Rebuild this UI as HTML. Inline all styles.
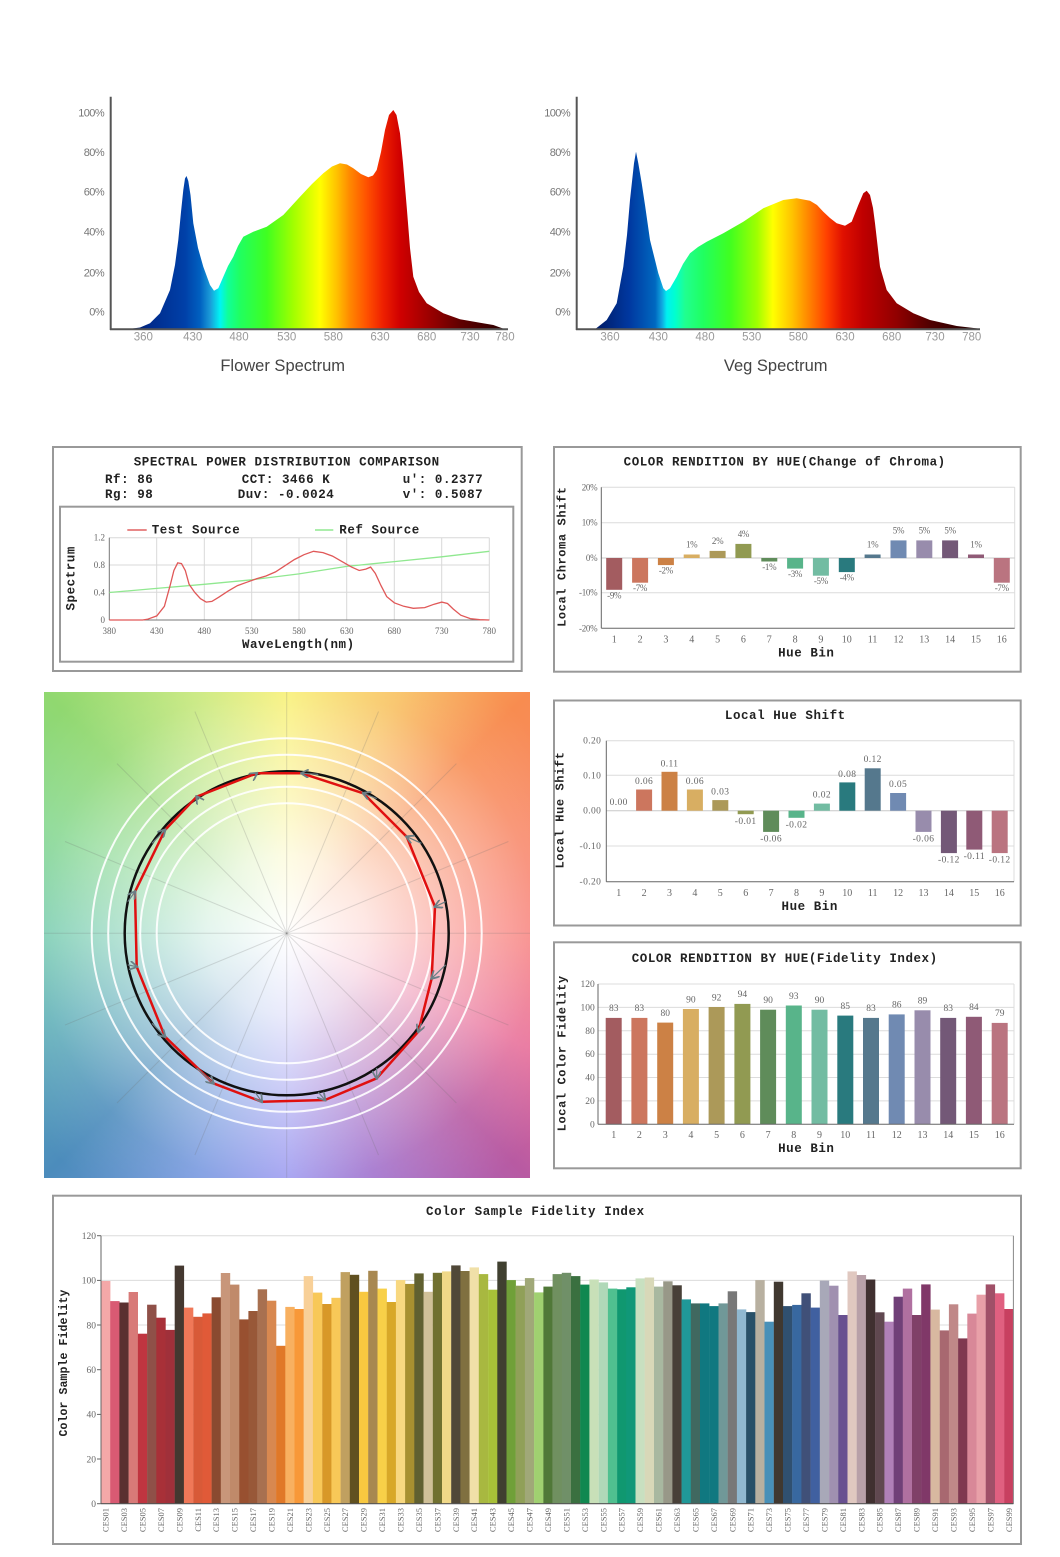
<!DOCTYPE html>
<html><head><meta charset="utf-8">
<style>
html,body{margin:0;padding:0;background:#fff;}
#wrap{position:relative;width:1060px;height:1557px;overflow:hidden;background:#fff;}
#cw{position:absolute;left:44px;top:692px;width:486px;height:486px;
background:
radial-gradient(circle at 50% 50%, rgba(255,255,255,1) 0px, rgba(255,255,255,0.8) 80px, rgba(255,255,255,0.4) 180px, rgba(255,255,255,0.12) 250px, rgba(255,255,255,0) 320px),
conic-gradient(from 0deg at 50% 50%, #f8f070 0deg, #f8c060 25deg, #f88c50 45deg, #f88a68 65deg, #f88480 90deg, #e8709a 115deg, #b85aa2 135deg, #a070cc 160deg, #9a98f0 180deg, #7898e0 200deg, #4c8cbc 225deg, #60b0b8 250deg, #78ccb0 270deg, #88d890 295deg, #90d870 315deg, #c8e878 340deg, #f8f070 360deg);}
svg{position:absolute;left:0;top:0;}
.mono{font-family:"Liberation Mono","Courier New",monospace;font-weight:bold;fill:#222;}
.ser{font-family:"Liberation Serif",serif;fill:#666;}
.sans{font-family:"Liberation Sans",sans-serif;}
</style></head><body><div id="wrap">
<div id="cw"></div>
<svg width="1060" height="1557" viewBox="0 0 1060 1557" xmlns="http://www.w3.org/2000/svg">
<defs>
<linearGradient id="gf" gradientUnits="userSpaceOnUse" x1="110" y1="0" x2="510" y2="0">
<stop offset="0.04" stop-color="#00165a"/><stop offset="0.10" stop-color="#002b8c"/><stop offset="0.1875" stop-color="#0040a8"/><stop offset="0.225" stop-color="#0060c0"/><stop offset="0.25" stop-color="#1a9ad8"/><stop offset="0.275" stop-color="#00f4f4"/><stop offset="0.295" stop-color="#10ff98"/><stop offset="0.325" stop-color="#20ff60"/><stop offset="0.3925" stop-color="#40ff20"/><stop offset="0.4575" stop-color="#a0ff00"/><stop offset="0.525" stop-color="#ffff00"/><stop offset="0.5675" stop-color="#ffc000"/><stop offset="0.6" stop-color="#ff8800"/><stop offset="0.6425" stop-color="#ff5000"/><stop offset="0.6825" stop-color="#ee2000"/><stop offset="0.725" stop-color="#d00000"/><stop offset="0.7925" stop-color="#a00000"/><stop offset="0.875" stop-color="#600000"/><stop offset="0.9875" stop-color="#280000"/>
</linearGradient>
<linearGradient id="gv" gradientUnits="userSpaceOnUse" x1="577" y1="0" x2="980" y2="0">
<stop offset="0.05" stop-color="#001c68"/><stop offset="0.13" stop-color="#0038a0"/><stop offset="0.194" stop-color="#0068c0"/><stop offset="0.211" stop-color="#10a8e0"/><stop offset="0.223" stop-color="#00f0f0"/><stop offset="0.243" stop-color="#00ffd0"/><stop offset="0.268" stop-color="#20ff90"/><stop offset="0.313" stop-color="#20ff60"/><stop offset="0.38" stop-color="#40ff20"/><stop offset="0.447" stop-color="#a0ff00"/><stop offset="0.486" stop-color="#ffff00"/><stop offset="0.536" stop-color="#ffc000"/><stop offset="0.578" stop-color="#ff8000"/><stop offset="0.62" stop-color="#ff4000"/><stop offset="0.66" stop-color="#e01000"/><stop offset="0.709" stop-color="#c00000"/><stop offset="0.794" stop-color="#900000"/><stop offset="0.876" stop-color="#500000"/><stop offset="0.993" stop-color="#200000"/>
</linearGradient>
<marker id="ah" viewBox="0 0 10 10" refX="8" refY="5" markerWidth="9" markerHeight="9" markerUnits="userSpaceOnUse" orient="auto"><path d="M0,0 L9,5 L0,10" fill="none" stroke="#6b7f86" stroke-width="2"/></marker>
</defs>

<!-- ===== Flower spectrum ===== -->
<path fill="url(#gf)" d="M110,329.3 L126.7,329.3 L140,327.5 L150,323.3 L160,313.3 L170,290 L175,265 L178.3,240 L181,212 L183.3,190 L185,178.5 L186.5,176 L188.3,181 L190.5,195 L193.3,223.3 L198,248 L203.3,266.7 L210,285 L214,290.7 L218.3,288.3 L223.3,276.7 L228,266 L233.3,256.7 L238,246 L243.3,236.7 L253.3,231.7 L266.7,226.7 L283.3,215 L300,196.7 L312,184 L323.3,173.3 L332,166.5 L340,163.3 L347,164.5 L353.3,168.3 L361,174 L368.3,177.3 L373,175.5 L376.7,170 L381,152 L385,130 L389,115 L393.3,110 L396.5,115 L400,133.3 L403,163 L406.7,206.7 L410,248 L413.3,276.7 L419,292 L426.7,303.3 L443.3,313.3 L460,319.3 L480,322.7 L493.3,325 L505,329.3 Z"/>
<line x1="110.7" y1="96.7" x2="110.7" y2="330" stroke="#555" stroke-width="2"/>
<line x1="110" y1="329.3" x2="508" y2="329.3" stroke="#555" stroke-width="2"/>
<g class="sans" font-size="11" fill="#777" text-anchor="end" letter-spacing="-0.6">
<text x="104" y="116.7">100%</text><text x="104" y="156">80%</text><text x="104" y="195.7">60%</text><text x="104" y="235.7">40%</text><text x="104" y="276.7">20%</text><text x="104" y="315.7">0%</text>
</g>
<g class="sans" font-size="11.5" fill="#999" text-anchor="middle">
<text x="143.3" y="340.7">360</text><text x="192.7" y="340.7">430</text><text x="239" y="340.7">480</text><text x="286.7" y="340.7">530</text><text x="333.3" y="340.7">580</text><text x="380" y="340.7">630</text><text x="426.7" y="340.7">680</text><text x="470" y="340.7">730</text><text x="505" y="340.7">780</text>
</g>
<text class="sans" x="282.7" y="371" font-size="16.5" fill="#444" text-anchor="middle">Flower Spectrum</text>

<!-- ===== Veg spectrum ===== -->
<path fill="url(#gv)" d="M577,329.3 L595,329.3 L606.7,320 L616.7,303.3 L623.3,266.7 L627,235 L630,200 L634,163.3 L636,151.7 L638.3,163.3 L641.7,183.3 L645,205 L650,240 L658.3,273.3 L663.3,288.3 L666,291 L670,288.3 L676.7,276.7 L683,264 L690,253.3 L698,247 L706.7,241.7 L723.3,233.3 L743.3,221.7 L763.3,208.3 L783.3,200 L796.7,198.3 L810,200.7 L817,205 L823.3,211.7 L830,218 L836.7,223.3 L845,225.7 L851.7,221.7 L858.3,205 L863.3,193.3 L866.7,190.7 L870,195 L873,208 L875,223.3 L880,266.7 L886.7,290 L896.7,303.3 L913.3,313.3 L930,320 L956.7,326 L980,328.7 L980,329.3 Z"/>
<line x1="576.7" y1="96.7" x2="576.7" y2="330" stroke="#555" stroke-width="2"/>
<line x1="576" y1="329.3" x2="980" y2="329.3" stroke="#555" stroke-width="2"/>
<g class="sans" font-size="11" fill="#777" text-anchor="end" letter-spacing="-0.6">
<text x="570" y="116.7">100%</text><text x="570" y="156">80%</text><text x="570" y="195.7">60%</text><text x="570" y="235.7">40%</text><text x="570" y="276.7">20%</text><text x="570" y="315.7">0%</text>
</g>
<g class="sans" font-size="11.5" fill="#999" text-anchor="middle">
<text x="610" y="340.7">360</text><text x="658.3" y="340.7">430</text><text x="705" y="340.7">480</text><text x="751.7" y="340.7">530</text><text x="798.3" y="340.7">580</text><text x="845" y="340.7">630</text><text x="891.7" y="340.7">680</text><text x="935" y="340.7">730</text><text x="971.7" y="340.7">780</text>
</g>
<text class="sans" x="775.7" y="371" font-size="16.5" fill="#444" text-anchor="middle">Veg Spectrum</text>

<!-- ===== SPD comparison ===== -->
<rect x="53" y="447" width="468.7" height="224" fill="#fff" stroke="#999" stroke-width="2"/>
<rect x="60" y="506.7" width="453.3" height="155" fill="#fff" stroke="#999" stroke-width="2"/>
<g class="mono" font-size="12.5" letter-spacing="0.55">
<text x="286.7" y="465.5" text-anchor="middle">SPECTRAL POWER DISTRIBUTION COMPARISON</text>
<text x="105" y="483">Rf: 86</text><text x="241.7" y="483">CCT: 3466 K</text><text x="402.7" y="483">u': 0.2377</text>
<text x="105" y="498">Rg: 98</text><text x="237.7" y="498">Duv: -0.0024</text><text x="402.7" y="498">v': 0.5087</text>
<text x="151.7" y="533.5">Test Source</text><text x="339.3" y="533.5">Ref Source</text>
<text x="298.3" y="648" text-anchor="middle">WaveLength(nm)</text>
<text transform="translate(74.5,578.3) rotate(-90)" text-anchor="middle">Spectrum</text>
</g>
<line x1="127.3" y1="530" x2="146.7" y2="530" stroke="#e06060" stroke-width="1.5"/>
<line x1="315" y1="530" x2="333.3" y2="530" stroke="#90e890" stroke-width="1.5"/>
<g stroke="#d8d8d8" stroke-width="1">
<line x1="156.7" y1="537.7" x2="156.7" y2="620"/><line x1="204.3" y1="537.7" x2="204.3" y2="620"/><line x1="251.7" y1="537.7" x2="251.7" y2="620"/><line x1="299" y1="537.7" x2="299" y2="620"/><line x1="346.7" y1="537.7" x2="346.7" y2="620"/><line x1="394.3" y1="537.7" x2="394.3" y2="620"/><line x1="441.7" y1="537.7" x2="441.7" y2="620"/><line x1="489.3" y1="537.7" x2="489.3" y2="620"/>
<line x1="109.3" y1="537.7" x2="489.3" y2="537.7"/><line x1="109.3" y1="565" x2="489.3" y2="565"/><line x1="109.3" y1="592.3" x2="489.3" y2="592.3"/>
</g>
<line x1="109.3" y1="537.7" x2="109.3" y2="620" stroke="#777" stroke-width="1"/>
<line x1="109.3" y1="620" x2="489.3" y2="620" stroke="#777" stroke-width="1"/>
<g class="ser" font-size="9" text-anchor="end">
<text x="105" y="540.7">1.2</text><text x="105" y="568">0.8</text><text x="105" y="595.3">0.4</text><text x="105" y="623">0</text>
</g>
<g class="ser" font-size="9" text-anchor="middle">
<text x="109.3" y="634">380</text><text x="156.7" y="634">430</text><text x="204.3" y="634">480</text><text x="251.7" y="634">530</text><text x="299" y="634">580</text><text x="346.7" y="634">630</text><text x="394.3" y="634">680</text><text x="441.7" y="634">730</text><text x="489.3" y="634">780</text>
</g>
<polyline fill="none" stroke="#90e890" stroke-width="1.3" points="109.3,592.5 156.7,588.4 204.3,584.3 251.7,579.8 299,573.9 346.7,566.4 394.3,561.6 441.7,556.8 489.3,551.3"/>
<polyline fill="none" stroke="#e05858" stroke-width="1.3" points="109.3,620 142.6,620 147.3,619.3 156.8,615.9 164.4,606.3 170.1,585.6 173.9,570.5 177.7,562.9 181.5,563.6 185.3,570.5 189.1,584.3 194.8,592.5 200.5,598.7 206.2,602.1 211.9,601.4 218.6,597.3 228.1,591.1 237.5,585.6 247,582.2 256.5,578.8 266,576 275.5,571.9 285,565.7 294.5,559.5 304,554.7 313.5,551.3 323,552.6 332.5,556.1 342,561.6 351.6,567.1 359.2,570.5 365.8,569.1 370.6,567.1 375.3,573.3 381,585.6 386.7,596.6 394.3,602.8 403.8,606.3 413.3,608.3 424.7,607.6 434.2,604.2 441.8,602.1 447.5,603.5 453.2,609 460.8,615.2 470.3,618.6 479.8,619.7 489.3,620"/>

<!-- ===== Chroma chart ===== -->
<rect x="554" y="447" width="466.7" height="224.7" fill="#fff" stroke="#999" stroke-width="2"/>
<g stroke="#dcdcdc" stroke-width="1">
<line x1="601.3" y1="487.3" x2="1014.7" y2="487.3"/><line x1="601.3" y1="522.7" x2="1014.7" y2="522.7"/><line x1="601.3" y1="592.7" x2="1014.7" y2="592.7"/><line x1="1014.7" y1="487.3" x2="1014.7" y2="628.3"/>
</g>
<line x1="601.3" y1="558" x2="1014.7" y2="558" stroke="#c8c8c8" stroke-width="1"/>
<g>
<rect x="606.2" y="558" width="16" height="31.8" fill="#a35c60"/>
<rect x="632.1" y="558" width="16" height="24.7" fill="#cc765e"/>
<rect x="657.9" y="558" width="16" height="7.1" fill="#cc8145"/>
<rect x="683.7" y="554.5" width="16" height="3.5" fill="#d8ae62"/>
<rect x="709.6" y="550.9" width="16" height="7.1" fill="#ac9959"/>
<rect x="735.4" y="543.9" width="16" height="14.1" fill="#919a52"/>
<rect x="761.3" y="558" width="16" height="3.5" fill="#5f8c5a"/>
<rect x="787.1" y="558" width="16" height="10.6" fill="#58b48a"/>
<rect x="812.9" y="558" width="16" height="17.7" fill="#72bca2"/>
<rect x="838.8" y="558" width="16" height="14.1" fill="#297a7e"/>
<rect x="864.6" y="554.5" width="16" height="3.5" fill="#55788d"/>
<rect x="890.5" y="540.4" width="16" height="17.7" fill="#708ab2"/>
<rect x="916.3" y="540.4" width="16" height="17.7" fill="#988cac"/>
<rect x="942.1" y="540.4" width="16" height="17.7" fill="#735877"/>
<rect x="968" y="554.5" width="16" height="3.5" fill="#8f5a76"/>
<rect x="993.8" y="558" width="16" height="24.7" fill="#ba7480"/>
</g>
<line x1="601.3" y1="487.3" x2="601.3" y2="628.3" stroke="#666" stroke-width="1"/>
<line x1="601.3" y1="628.3" x2="1014.7" y2="628.3" stroke="#666" stroke-width="1"/>
<g class="ser" font-size="9" text-anchor="end" letter-spacing="-0.3">
<text x="597.3" y="490.3">20%</text><text x="597.3" y="525.7">10%</text><text x="597.3" y="561">0%</text><text x="597.3" y="595.7">-10%</text><text x="597.3" y="631.3">-20%</text>
</g>
<g class="ser" font-size="9" text-anchor="middle" fill="#555" letter-spacing="-0.3">
<text x="614.2" y="598.5">-9%</text><text x="640.1" y="591.2">-7%</text><text x="665.9" y="573.6">-2%</text><text x="691.7" y="547.5">1%</text><text x="717.6" y="543.9">2%</text><text x="743.4" y="536.9">4%</text><text x="769.3" y="570">-1%</text><text x="795.1" y="577.1">-3%</text><text x="820.9" y="584.2">-5%</text><text x="846.8" y="580.6">-4%</text><text x="872.6" y="547.5">1%</text><text x="898.5" y="533.4">5%</text><text x="924.3" y="533.4">5%</text><text x="950.1" y="533.4">5%</text><text x="976" y="547.5">1%</text><text x="1001.8" y="591.2">-7%</text>
</g>
<g class="ser" font-size="10" text-anchor="middle">
<text x="614.2" y="642.5">1</text><text x="640.1" y="642.5">2</text><text x="665.9" y="642.5">3</text><text x="691.7" y="642.5">4</text><text x="717.6" y="642.5">5</text><text x="743.4" y="642.5">6</text><text x="769.3" y="642.5">7</text><text x="795.1" y="642.5">8</text><text x="820.9" y="642.5">9</text><text x="846.8" y="642.5">10</text><text x="872.6" y="642.5">11</text><text x="898.5" y="642.5">12</text><text x="924.3" y="642.5">13</text><text x="950.1" y="642.5">14</text><text x="976" y="642.5">15</text><text x="1001.8" y="642.5">16</text>
</g>
<g class="mono" font-size="12.5" letter-spacing="0.55">
<text x="784.7" y="465.5" text-anchor="middle">COLOR RENDITION BY HUE(Change of Chroma)</text>
<text x="806.3" y="656.5" text-anchor="middle">Hue Bin</text>
<text transform="translate(565.3,556.7) rotate(-90)" text-anchor="middle" font-size="12" letter-spacing="0.6">Local Chroma Shift</text>
</g>

<!-- ===== Hue shift chart ===== -->
<rect x="554" y="700.5" width="466.7" height="225" fill="#fff" stroke="#999" stroke-width="2"/>
<g stroke="#dcdcdc" stroke-width="1">
<line x1="606.3" y1="740.7" x2="1014" y2="740.7"/><line x1="606.3" y1="775.3" x2="1014" y2="775.3"/><line x1="606.3" y1="846" x2="1014" y2="846"/><line x1="1014" y1="740.7" x2="1014" y2="881.7"/>
</g>
<line x1="606.3" y1="810.7" x2="1014" y2="810.7" stroke="#c8c8c8" stroke-width="1"/>
<g>
<rect x="636.1" y="789.5" width="16" height="21.2" fill="#cc765e"/>
<rect x="661.5" y="771.8" width="16" height="38.9" fill="#cc8145"/>
<rect x="686.9" y="789.5" width="16" height="21.2" fill="#d8ae62"/>
<rect x="712.3" y="800.1" width="16" height="10.6" fill="#ac9959"/>
<rect x="737.7" y="810.7" width="16" height="3.5" fill="#919a52"/>
<rect x="763.1" y="810.7" width="16" height="21.2" fill="#5f8c5a"/>
<rect x="788.5" y="810.7" width="16" height="7.1" fill="#58b48a"/>
<rect x="813.9" y="803.6" width="16" height="7.1" fill="#72bca2"/>
<rect x="839.3" y="782.4" width="16" height="28.3" fill="#297a7e"/>
<rect x="864.7" y="768.3" width="16" height="42.4" fill="#55788d"/>
<rect x="890.1" y="793" width="16" height="17.7" fill="#708ab2"/>
<rect x="915.5" y="810.7" width="16" height="21.2" fill="#988cac"/>
<rect x="940.9" y="810.7" width="16" height="42.4" fill="#735877"/>
<rect x="966.3" y="810.7" width="16" height="38.9" fill="#8f5a76"/>
<rect x="991.7" y="810.7" width="16" height="42.4" fill="#ba7480"/>
</g>
<line x1="606.3" y1="740.7" x2="606.3" y2="881.7" stroke="#666" stroke-width="1"/>
<line x1="606.3" y1="881.7" x2="1014" y2="881.7" stroke="#666" stroke-width="1"/>
<g class="ser" font-size="9.5" text-anchor="end" letter-spacing="0.4">
<text x="601.3" y="743.7">0.20</text><text x="601.3" y="778.3">0.10</text><text x="601.3" y="813.7">0.00</text><text x="601.3" y="849">-0.10</text><text x="601.3" y="884.7">-0.20</text>
</g>
<g class="ser" font-size="9.5" text-anchor="middle" fill="#555" letter-spacing="0.4">
<text x="618.7" y="805">0.00</text><text x="644.1" y="784">0.06</text><text x="669.5" y="766.3">0.11</text><text x="694.9" y="784">0.06</text><text x="720.3" y="794.6">0.03</text><text x="745.7" y="824">-0.01</text><text x="771.1" y="841.6">-0.06</text><text x="796.5" y="827.5">-0.02</text><text x="821.9" y="797.5">0.02</text><text x="847.3" y="776.8">0.08</text><text x="872.7" y="761.8">0.12</text><text x="898.1" y="786.8">0.05</text><text x="923.5" y="841.6">-0.06</text><text x="948.9" y="862.5">-0.12</text><text x="974.3" y="859">-0.11</text><text x="999.7" y="862.5">-0.12</text>
</g>
<g class="ser" font-size="10" text-anchor="middle">
<text x="618.7" y="896">1</text><text x="644.1" y="896">2</text><text x="669.5" y="896">3</text><text x="694.9" y="896">4</text><text x="720.3" y="896">5</text><text x="745.7" y="896">6</text><text x="771.1" y="896">7</text><text x="796.5" y="896">8</text><text x="821.9" y="896">9</text><text x="847.3" y="896">10</text><text x="872.7" y="896">11</text><text x="898.1" y="896">12</text><text x="923.5" y="896">13</text><text x="948.9" y="896">14</text><text x="974.3" y="896">15</text><text x="999.7" y="896">16</text>
</g>
<g class="mono" font-size="12.5" letter-spacing="0.55">
<text x="785.3" y="719" text-anchor="middle">Local Hue Shift</text>
<text x="809.7" y="910" text-anchor="middle">Hue Bin</text>
<text transform="translate(563.7,810) rotate(-90)" text-anchor="middle" font-size="12" letter-spacing="0.6">Local Hue Shift</text>
</g>

<!-- ===== Fidelity by hue ===== -->
<rect x="554" y="942.3" width="466.7" height="226" fill="#fff" stroke="#999" stroke-width="2"/>
<g stroke="#dcdcdc" stroke-width="1">
<line x1="598" y1="984" x2="1014" y2="984"/><line x1="598" y1="1007.4" x2="1014" y2="1007.4"/><line x1="598" y1="1030.8" x2="1014" y2="1030.8"/><line x1="598" y1="1054.2" x2="1014" y2="1054.2"/><line x1="598" y1="1077.5" x2="1014" y2="1077.5"/><line x1="598" y1="1100.9" x2="1014" y2="1100.9"/><line x1="1014" y1="984" x2="1014" y2="1124.3"/>
</g>
<g>
<rect x="605.7" y="1017.9" width="16" height="106.4" fill="#a35c60"/>
<rect x="631.4" y="1017.9" width="16" height="106.4" fill="#cc765e"/>
<rect x="657.2" y="1022.6" width="16" height="101.7" fill="#cc8145"/>
<rect x="682.9" y="1009" width="16" height="115.3" fill="#d8ae62"/>
<rect x="708.6" y="1007" width="16" height="117.3" fill="#ac9959"/>
<rect x="734.4" y="1003.9" width="16" height="120.4" fill="#919a52"/>
<rect x="760.1" y="1009.7" width="16" height="114.6" fill="#5f8c5a"/>
<rect x="785.8" y="1005.5" width="16" height="118.8" fill="#58b48a"/>
<rect x="811.5" y="1009.7" width="16" height="114.6" fill="#72bca2"/>
<rect x="837.3" y="1015.6" width="16" height="108.7" fill="#297a7e"/>
<rect x="863" y="1017.9" width="16" height="106.4" fill="#55788d"/>
<rect x="888.7" y="1014.4" width="16" height="109.9" fill="#708ab2"/>
<rect x="914.5" y="1010.3" width="16" height="114" fill="#988cac"/>
<rect x="940.2" y="1017.9" width="16" height="106.4" fill="#735877"/>
<rect x="965.9" y="1016.8" width="16" height="107.5" fill="#8f5a76"/>
<rect x="991.7" y="1022.9" width="16" height="101.4" fill="#ba7480"/>
</g>
<line x1="598" y1="984" x2="598" y2="1124.3" stroke="#666" stroke-width="1"/>
<line x1="598" y1="1124.3" x2="1014" y2="1124.3" stroke="#666" stroke-width="1"/>
<g class="ser" font-size="9.5" text-anchor="end">
<text x="594.7" y="987">120</text><text x="594.7" y="1010.4">100</text><text x="594.7" y="1033.8">80</text><text x="594.7" y="1057.2">60</text><text x="594.7" y="1080.5">40</text><text x="594.7" y="1103.9">20</text><text x="594.7" y="1127.3">0</text>
</g>
<g class="ser" font-size="9.5" text-anchor="middle" fill="#555">
<text x="613.7" y="1011.2">83</text><text x="639.4" y="1011.2">83</text><text x="665.2" y="1015.9">80</text><text x="690.9" y="1002.3">90</text><text x="716.6" y="1000.3">92</text><text x="742.4" y="997.2">94</text><text x="768.1" y="1003">90</text><text x="793.8" y="998.8">93</text><text x="819.5" y="1003">90</text><text x="845.3" y="1008.9">85</text><text x="871" y="1011.2">83</text><text x="896.7" y="1007.7">86</text><text x="922.5" y="1003.6">89</text><text x="948.2" y="1011.2">83</text><text x="973.9" y="1010.1">84</text><text x="999.7" y="1016.2">79</text>
</g>
<g class="ser" font-size="10" text-anchor="middle">
<text x="613.7" y="1138">1</text><text x="639.4" y="1138">2</text><text x="665.2" y="1138">3</text><text x="690.9" y="1138">4</text><text x="716.6" y="1138">5</text><text x="742.4" y="1138">6</text><text x="768.1" y="1138">7</text><text x="793.8" y="1138">8</text><text x="819.5" y="1138">9</text><text x="845.3" y="1138">10</text><text x="871" y="1138">11</text><text x="896.7" y="1138">12</text><text x="922.5" y="1138">13</text><text x="948.2" y="1138">14</text><text x="973.9" y="1138">15</text><text x="999.7" y="1138">16</text>
</g>
<g class="mono" font-size="12.5" letter-spacing="0.55">
<text x="784.7" y="962" text-anchor="middle">COLOR RENDITION BY HUE(Fidelity Index)</text>
<text x="806.3" y="1152" text-anchor="middle">Hue Bin</text>
<text transform="translate(565.3,1053.3) rotate(-90)" text-anchor="middle" font-size="12" letter-spacing="0.6">Local Color Fidelity</text>
</g>

<!-- ===== Color vector graphic overlay ===== -->
<g stroke="rgba(110,110,110,0.22)" stroke-width="1">
<line x1="286.7" y1="692" x2="286.7" y2="1177.7"/>
<line x1="44" y1="933.3" x2="530" y2="933.3"/>
<line x1="286.7" y1="933.3" x2="378.5" y2="711.6"/>
<line x1="286.7" y1="933.3" x2="456.4" y2="763.6"/>
<line x1="286.7" y1="933.3" x2="508.4" y2="841.5"/>
<line x1="286.7" y1="933.3" x2="508.4" y2="1025.1"/>
<line x1="286.7" y1="933.3" x2="456.4" y2="1103"/>
<line x1="286.7" y1="933.3" x2="378.5" y2="1155"/>
<line x1="286.7" y1="933.3" x2="194.9" y2="1155"/>
<line x1="286.7" y1="933.3" x2="117" y2="1103"/>
<line x1="286.7" y1="933.3" x2="65" y2="1025.1"/>
<line x1="286.7" y1="933.3" x2="65" y2="841.5"/>
<line x1="286.7" y1="933.3" x2="117" y2="763.6"/>
<line x1="286.7" y1="933.3" x2="194.9" y2="711.6"/>
</g>
<g fill="none" stroke="rgba(255,255,255,0.9)" stroke-width="2">
<circle cx="286.7" cy="933.3" r="195"/><circle cx="286.7" cy="933.3" r="178.5"/><circle cx="286.7" cy="933.3" r="146.5"/><circle cx="286.7" cy="933.3" r="130"/>
</g>
<circle cx="286.7" cy="933.3" r="162" fill="none" stroke="#111" stroke-width="2.5"/>
<polygon fill="none" stroke="#e01010" stroke-width="2.5" stroke-linejoin="round" points="256.7,773.3 301.7,773.3 363.3,793.3 406.7,836.7 435,906.7 431.7,978.3 418.3,1031.7 376.7,1078.3 325,1100 261.7,1101.7 213.3,1083.3 165,1036.7 136.7,966.7 135,891.7 165,830 196.7,796.7"/>
<g stroke="#6b7f86" stroke-width="1.2" marker-end="url(#ah)">
<line x1="445.6" y1="901.7" x2="435" y2="906.7"/>
<line x1="421.4" y1="843.3" x2="406.7" y2="836.7"/>
<line x1="376.7" y1="798.6" x2="363.3" y2="793.3"/>
<line x1="318.3" y1="774.4" x2="301.7" y2="773.3"/>
<line x1="255.1" y1="774.4" x2="256.7" y2="773.3"/>
<line x1="198.7" y1="799.6" x2="196.7" y2="796.7"/>
<line x1="152" y1="843.3" x2="165" y2="830"/>
<line x1="127.8" y1="901.7" x2="135" y2="891.7"/>
<line x1="127.8" y1="964.9" x2="136.7" y2="966.7"/>
<line x1="152" y1="1023.3" x2="165" y2="1036.7"/>
<line x1="196.7" y1="1068" x2="213.3" y2="1083.3"/>
<line x1="255.1" y1="1092.2" x2="261.7" y2="1101.7"/>
<line x1="318.3" y1="1092.2" x2="325" y2="1100"/>
<line x1="376.7" y1="1068" x2="376.7" y2="1078.3"/>
<line x1="421.4" y1="1023.3" x2="418.3" y2="1031.7"/>
<line x1="445.6" y1="964.9" x2="431.7" y2="978.3"/>
</g>

<!-- ===== Color Sample Fidelity Index ===== -->
<rect x="53" y="1195.7" width="968" height="348.3" fill="#fff" stroke="#999" stroke-width="2"/>
<g stroke="#dcdcdc" stroke-width="1">
<line x1="101" y1="1235.7" x2="1013.4" y2="1235.7"/><line x1="101" y1="1280.4" x2="1013.4" y2="1280.4"/><line x1="101" y1="1325" x2="1013.4" y2="1325"/><line x1="101" y1="1369.7" x2="1013.4" y2="1369.7"/><line x1="101" y1="1414.4" x2="1013.4" y2="1414.4"/><line x1="101" y1="1459" x2="1013.4" y2="1459"/>
</g>
<g>
<rect x="101" y="1281" width="9.4" height="222.7" fill="#f4a8a8"/>
<rect x="110.2" y="1301.1" width="9.4" height="202.6" fill="#d95a73"/>
<rect x="119.4" y="1302.5" width="9.4" height="201.2" fill="#5a3030"/>
<rect x="128.6" y="1292" width="9.4" height="211.7" fill="#d87a78"/>
<rect x="137.9" y="1333.7" width="9.4" height="170" fill="#c03540"/>
<rect x="147.1" y="1304.7" width="9.4" height="199" fill="#8f5048"/>
<rect x="156.3" y="1317.7" width="9.4" height="186" fill="#a83038"/>
<rect x="165.5" y="1329.9" width="9.4" height="173.8" fill="#a0303a"/>
<rect x="174.7" y="1265.6" width="9.4" height="238.1" fill="#443830"/>
<rect x="183.9" y="1307.6" width="9.4" height="196.1" fill="#f07858"/>
<rect x="193.2" y="1316.8" width="9.4" height="186.9" fill="#d85a38"/>
<rect x="202.4" y="1313.4" width="9.4" height="190.3" fill="#e05a38"/>
<rect x="211.6" y="1297.3" width="9.4" height="206.4" fill="#8a4a30"/>
<rect x="220.8" y="1273" width="9.4" height="230.7" fill="#c8967a"/>
<rect x="230" y="1284.6" width="9.4" height="219.1" fill="#c08a6a"/>
<rect x="239.2" y="1319.4" width="9.4" height="184.3" fill="#985030"/>
<rect x="248.4" y="1311" width="9.4" height="192.7" fill="#985838"/>
<rect x="257.7" y="1289.3" width="9.4" height="214.4" fill="#a87050"/>
<rect x="266.9" y="1300.7" width="9.4" height="203" fill="#d88850"/>
<rect x="276.1" y="1345.8" width="9.4" height="157.9" fill="#e07828"/>
<rect x="285.3" y="1306.9" width="9.4" height="196.8" fill="#f8b060"/>
<rect x="294.5" y="1309" width="9.4" height="194.7" fill="#f89838"/>
<rect x="303.7" y="1276.1" width="9.4" height="227.6" fill="#f8d098"/>
<rect x="312.9" y="1292.6" width="9.4" height="211.1" fill="#f8c858"/>
<rect x="322.2" y="1304" width="9.4" height="199.7" fill="#d89828"/>
<rect x="331.4" y="1297.8" width="9.4" height="205.9" fill="#f8c858"/>
<rect x="340.6" y="1272.1" width="9.4" height="231.6" fill="#c0a060"/>
<rect x="349.8" y="1274.8" width="9.4" height="228.9" fill="#605020"/>
<rect x="359" y="1291.8" width="9.4" height="211.9" fill="#f8c840"/>
<rect x="368.2" y="1270.8" width="9.4" height="232.9" fill="#a88850"/>
<rect x="377.5" y="1288.6" width="9.4" height="215.1" fill="#f8d048"/>
<rect x="386.7" y="1302" width="9.4" height="201.7" fill="#d8a828"/>
<rect x="395.9" y="1280.1" width="9.4" height="223.6" fill="#f8d880"/>
<rect x="405.1" y="1283.9" width="9.4" height="219.8" fill="#a89030"/>
<rect x="414.3" y="1273.4" width="9.4" height="230.3" fill="#606030"/>
<rect x="423.5" y="1291.8" width="9.4" height="211.9" fill="#d0c098"/>
<rect x="432.8" y="1272.8" width="9.4" height="230.9" fill="#707030"/>
<rect x="442" y="1271.4" width="9.4" height="232.3" fill="#f0d888"/>
<rect x="451.2" y="1265.4" width="9.4" height="238.3" fill="#504838"/>
<rect x="460.4" y="1271" width="9.4" height="232.7" fill="#807040"/>
<rect x="469.6" y="1267.4" width="9.4" height="236.3" fill="#f0e0a8"/>
<rect x="478.8" y="1274.1" width="9.4" height="229.6" fill="#a8b840"/>
<rect x="488.1" y="1289.7" width="9.4" height="214" fill="#a8c038"/>
<rect x="497.3" y="1261.6" width="9.4" height="242.1" fill="#404030"/>
<rect x="506.5" y="1280.1" width="9.4" height="223.6" fill="#70a038"/>
<rect x="515.7" y="1285.7" width="9.4" height="218" fill="#90a058"/>
<rect x="524.9" y="1278.1" width="9.4" height="225.6" fill="#a0a878"/>
<rect x="534.1" y="1292.4" width="9.4" height="211.3" fill="#a0d070"/>
<rect x="543.4" y="1286.6" width="9.4" height="217.1" fill="#507838"/>
<rect x="552.6" y="1274.1" width="9.4" height="229.6" fill="#709060"/>
<rect x="561.8" y="1272.8" width="9.4" height="230.9" fill="#709068"/>
<rect x="571" y="1276.1" width="9.4" height="227.6" fill="#3a7040"/>
<rect x="580.2" y="1284.6" width="9.4" height="219.1" fill="#108850"/>
<rect x="589.4" y="1279.5" width="9.4" height="224.2" fill="#c8e0b8"/>
<rect x="598.7" y="1282.4" width="9.4" height="221.3" fill="#b0d8b8"/>
<rect x="607.9" y="1288.6" width="9.4" height="215.1" fill="#50c090"/>
<rect x="617.1" y="1289.3" width="9.4" height="214.4" fill="#109870"/>
<rect x="626.3" y="1287.3" width="9.4" height="216.4" fill="#109878"/>
<rect x="635.5" y="1278.4" width="9.4" height="225.3" fill="#c8e0c0"/>
<rect x="644.7" y="1277.5" width="9.4" height="226.2" fill="#d8d8b8"/>
<rect x="654" y="1286.6" width="9.4" height="217.1" fill="#a8b8a0"/>
<rect x="663.2" y="1281.3" width="9.4" height="222.4" fill="#989888"/>
<rect x="672.4" y="1285.3" width="9.4" height="218.4" fill="#484038"/>
<rect x="681.6" y="1299.4" width="9.4" height="204.3" fill="#209898"/>
<rect x="690.8" y="1303.4" width="9.4" height="200.3" fill="#406860"/>
<rect x="700" y="1303.4" width="9.4" height="200.3" fill="#107880"/>
<rect x="709.2" y="1306.1" width="9.4" height="197.6" fill="#107880"/>
<rect x="718.5" y="1303.4" width="9.4" height="200.3" fill="#709898"/>
<rect x="727.7" y="1291.3" width="9.4" height="212.4" fill="#787878"/>
<rect x="736.9" y="1309.4" width="9.4" height="194.3" fill="#90b8d0"/>
<rect x="746.1" y="1312.1" width="9.4" height="191.6" fill="#285068"/>
<rect x="755.3" y="1280.1" width="9.4" height="223.6" fill="#b8b0a0"/>
<rect x="764.5" y="1321.7" width="9.4" height="182" fill="#4890b8"/>
<rect x="773.8" y="1281.7" width="9.4" height="222" fill="#403830"/>
<rect x="783" y="1306.1" width="9.4" height="197.6" fill="#305070"/>
<rect x="792.2" y="1304.9" width="9.4" height="198.8" fill="#3868a0"/>
<rect x="801.4" y="1293.3" width="9.4" height="210.4" fill="#405078"/>
<rect x="810.6" y="1307.6" width="9.4" height="196.1" fill="#4060a0"/>
<rect x="819.8" y="1280.6" width="9.4" height="223.1" fill="#a8a8b8"/>
<rect x="829.1" y="1285.7" width="9.4" height="218" fill="#a090b0"/>
<rect x="838.3" y="1315" width="9.4" height="188.7" fill="#685090"/>
<rect x="847.5" y="1271.4" width="9.4" height="232.3" fill="#e0c8c0"/>
<rect x="856.7" y="1275" width="9.4" height="228.7" fill="#b8a0a8"/>
<rect x="865.9" y="1279.5" width="9.4" height="224.2" fill="#403030"/>
<rect x="875.1" y="1312.3" width="9.4" height="191.4" fill="#604850"/>
<rect x="884.4" y="1321.7" width="9.4" height="182" fill="#b080b8"/>
<rect x="893.6" y="1296.7" width="9.4" height="207" fill="#704078"/>
<rect x="902.8" y="1288.6" width="9.4" height="215.1" fill="#b070a0"/>
<rect x="912" y="1315" width="9.4" height="188.7" fill="#804068"/>
<rect x="921.2" y="1284.4" width="9.4" height="219.3" fill="#803868"/>
<rect x="930.4" y="1309.6" width="9.4" height="194.1" fill="#d8b8a0"/>
<rect x="939.7" y="1330.4" width="9.4" height="173.3" fill="#a86870"/>
<rect x="948.9" y="1304.3" width="9.4" height="199.4" fill="#c08888"/>
<rect x="958.1" y="1338.4" width="9.4" height="165.3" fill="#803850"/>
<rect x="967.3" y="1313.6" width="9.4" height="190.1" fill="#d88898"/>
<rect x="976.5" y="1294.7" width="9.4" height="209" fill="#e8a0a8"/>
<rect x="985.7" y="1284.4" width="9.4" height="219.3" fill="#a05068"/>
<rect x="995" y="1293.3" width="9.4" height="210.4" fill="#e06080"/>
<rect x="1004.2" y="1309" width="9.2" height="194.7" fill="#c84060"/>
</g>
<line x1="1013.4" y1="1235.7" x2="1013.4" y2="1503.7" stroke="#888" stroke-width="1"/>
<line x1="101" y1="1235.7" x2="101" y2="1503.7" stroke="#666" stroke-width="1"/>
<line x1="101" y1="1503.7" x2="1013.4" y2="1503.7" stroke="#555" stroke-width="1.2"/>
<g stroke="#666" stroke-width="1">
<line x1="97" y1="1235.7" x2="101" y2="1235.7"/><line x1="97" y1="1280.4" x2="101" y2="1280.4"/><line x1="97" y1="1325" x2="101" y2="1325"/><line x1="97" y1="1369.7" x2="101" y2="1369.7"/><line x1="97" y1="1414.4" x2="101" y2="1414.4"/><line x1="97" y1="1459" x2="101" y2="1459"/><line x1="97" y1="1503.7" x2="101" y2="1503.7"/>
</g>
<g class="ser" font-size="9.5" text-anchor="end">
<text x="96" y="1239">120</text><text x="96" y="1283.7">100</text><text x="96" y="1328.3">80</text><text x="96" y="1373">60</text><text x="96" y="1417.7">40</text><text x="96" y="1462.3">20</text><text x="96" y="1507">0</text>
</g>
<g class="ser" font-size="8.5" fill="#555" text-anchor="end">
<text transform="translate(108.6,1508) rotate(-90)">CES01</text>
<text transform="translate(127,1508) rotate(-90)">CES03</text>
<text transform="translate(145.5,1508) rotate(-90)">CES05</text>
<text transform="translate(163.9,1508) rotate(-90)">CES07</text>
<text transform="translate(182.3,1508) rotate(-90)">CES09</text>
<text transform="translate(200.8,1508) rotate(-90)">CES11</text>
<text transform="translate(219.2,1508) rotate(-90)">CES13</text>
<text transform="translate(237.6,1508) rotate(-90)">CES15</text>
<text transform="translate(256,1508) rotate(-90)">CES17</text>
<text transform="translate(274.5,1508) rotate(-90)">CES19</text>
<text transform="translate(292.9,1508) rotate(-90)">CES21</text>
<text transform="translate(311.3,1508) rotate(-90)">CES23</text>
<text transform="translate(329.8,1508) rotate(-90)">CES25</text>
<text transform="translate(348.2,1508) rotate(-90)">CES27</text>
<text transform="translate(366.6,1508) rotate(-90)">CES29</text>
<text transform="translate(385.1,1508) rotate(-90)">CES31</text>
<text transform="translate(403.5,1508) rotate(-90)">CES33</text>
<text transform="translate(421.9,1508) rotate(-90)">CES35</text>
<text transform="translate(440.4,1508) rotate(-90)">CES37</text>
<text transform="translate(458.8,1508) rotate(-90)">CES39</text>
<text transform="translate(477.2,1508) rotate(-90)">CES41</text>
<text transform="translate(495.7,1508) rotate(-90)">CES43</text>
<text transform="translate(514.1,1508) rotate(-90)">CES45</text>
<text transform="translate(532.5,1508) rotate(-90)">CES47</text>
<text transform="translate(551,1508) rotate(-90)">CES49</text>
<text transform="translate(569.4,1508) rotate(-90)">CES51</text>
<text transform="translate(587.8,1508) rotate(-90)">CES53</text>
<text transform="translate(606.3,1508) rotate(-90)">CES55</text>
<text transform="translate(624.7,1508) rotate(-90)">CES57</text>
<text transform="translate(643.1,1508) rotate(-90)">CES59</text>
<text transform="translate(661.6,1508) rotate(-90)">CES61</text>
<text transform="translate(680,1508) rotate(-90)">CES63</text>
<text transform="translate(698.4,1508) rotate(-90)">CES65</text>
<text transform="translate(716.8,1508) rotate(-90)">CES67</text>
<text transform="translate(735.3,1508) rotate(-90)">CES69</text>
<text transform="translate(753.7,1508) rotate(-90)">CES71</text>
<text transform="translate(772.1,1508) rotate(-90)">CES73</text>
<text transform="translate(790.6,1508) rotate(-90)">CES75</text>
<text transform="translate(809,1508) rotate(-90)">CES77</text>
<text transform="translate(827.4,1508) rotate(-90)">CES79</text>
<text transform="translate(845.9,1508) rotate(-90)">CES81</text>
<text transform="translate(864.3,1508) rotate(-90)">CES83</text>
<text transform="translate(882.7,1508) rotate(-90)">CES85</text>
<text transform="translate(901.2,1508) rotate(-90)">CES87</text>
<text transform="translate(919.6,1508) rotate(-90)">CES89</text>
<text transform="translate(938,1508) rotate(-90)">CES91</text>
<text transform="translate(956.5,1508) rotate(-90)">CES93</text>
<text transform="translate(974.9,1508) rotate(-90)">CES95</text>
<text transform="translate(993.3,1508) rotate(-90)">CES97</text>
<text transform="translate(1011.8,1508) rotate(-90)">CES99</text>
</g>
<g class="mono">
<text x="426" y="1215" font-size="12.5" letter-spacing="0.6">Color Sample Fidelity Index</text>
<text transform="translate(67,1363) rotate(-90)" text-anchor="middle" font-size="11.5" letter-spacing="0.1">Color Sample Fidelity</text>
</g>
</svg>
</div></body></html>
